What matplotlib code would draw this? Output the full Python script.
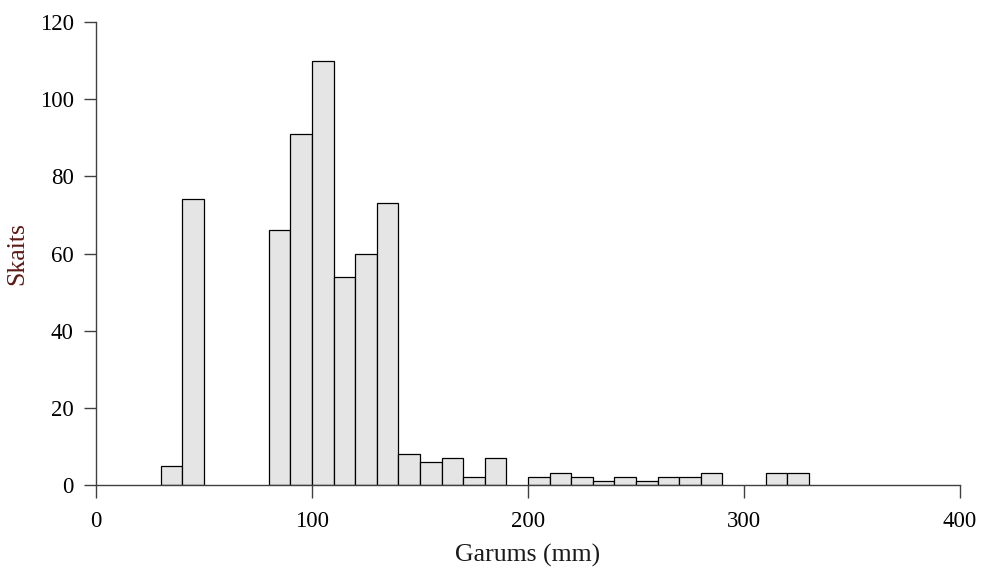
import numpy as np
import matplotlib
matplotlib.use("Agg")
import matplotlib.pyplot as plt

# histogram bins (mm), width 10
bin_starts = [30, 40, 80, 90, 100, 110, 120, 130, 140, 150, 160, 170, 180,
              200, 210, 220, 230, 240, 250, 260, 270, 280, 310, 320]
counts = [5, 74, 66, 91, 110, 54, 60, 73, 8, 6, 7, 2, 7,
          2, 3, 2, 1, 2, 1, 2, 2, 3, 3, 3]
bin_width = 10

x_ticks = [0, 100, 200, 300, 400]
y_ticks = [0, 20, 40, 60, 80, 100, 120]

plt.rcParams['font.family'] = ['Liberation Serif', 'DejaVu Serif']

fig = plt.figure(figsize=(9.82, 5.70), dpi=100)
ax = fig.add_axes([0.0978, 0.1491, 0.8798, 0.8123])

ax.bar(bin_starts, counts, width=bin_width, align='edge',
       color='#e5e5e5', edgecolor='black', linewidth=0.9, zorder=2)

ax.set_xlim(0, 400)
ax.set_ylim(0, 120)
ax.set_xticks(x_ticks)
ax.set_yticks(y_ticks)

for side in ['top', 'right']:
    ax.spines[side].set_visible(False)
for side in ['left', 'bottom']:
    ax.spines[side].set_color('#404040')
    ax.spines[side].set_linewidth(1.0)
ax.spines['bottom'].set_zorder(3)

ax.tick_params(axis='both', direction='out', length=9, width=1.0,
               color='#404040', labelsize=16.5)
ax.tick_params(axis='x', pad=10)
ax.tick_params(axis='y', pad=7)
ax.set_xlabel('Garums (mm)', fontsize=18.5, color='#1a1a1a', labelpad=8)
ax.set_ylabel('Skaits', fontsize=18.5, color='#5c1a14', labelpad=8)

plt.savefig("out.png", dpi=100)
